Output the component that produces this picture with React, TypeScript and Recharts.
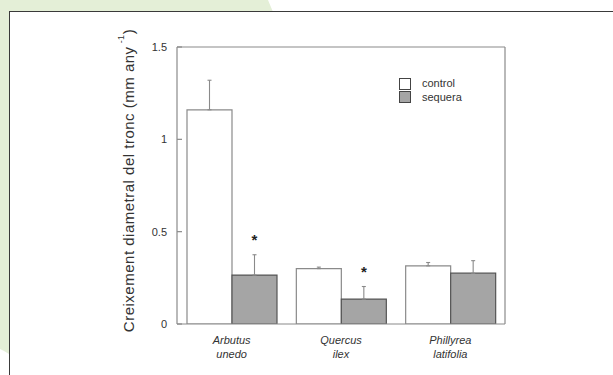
import React from "react";
import {
  ComposedChart,
  Bar,
  XAxis,
  YAxis,
  ErrorBar,
  LabelList,
  ReferenceLine,
} from "recharts";

const speciesLine1 = ["Arbutus", "Quercus", "Phillyrea"];
const speciesLine2 = ["unedo", "ilex", "latifolia"];
const controlMean = [1.16, 0.3, 0.315];
const controlErr = [0.16, 0.008, 0.018];
const sequeraMean = [0.265, 0.135, 0.275];
const sequeraErr = [0.11, 0.068, 0.068];
const significant = ["*", "*", ""];
const yTicks = [0, 0.5, 1, 1.5];
const legendItems = ["control", "sequera"];
const legendFills = ["#ffffff", "#a5a5a5"];

const data = speciesLine1.map((s, i) => ({
  name: s,
  control: controlMean[i],
  controlE: [0, controlErr[i]],
  sequera: sequeraMean[i],
  sequeraE: [0, sequeraErr[i]],
  sig: significant[i],
}));

const FONT = "'Liberation Sans', Arial, Helvetica, sans-serif";
const AXIS = "#8a8a8a";

const LeftTick = (props: any) => {
  const { x, y, payload } = props;
  const ax = x + 10;
  return (
    <g>
      <text x={x} y={y} dy={4} textAnchor="end" fontSize={11} fill="#333" fontFamily={FONT}>
        {payload.value}
      </text>
      <line x1={ax} x2={ax + 5} y1={y} y2={y} stroke={AXIS} strokeWidth={1.2} />
    </g>
  );
};

const RightTick = (props: any) => {
  const { x, y } = props;
  return <line x1={x - 5} x2={x} y1={y} y2={y} stroke={AXIS} strokeWidth={1.2} />;
};

const XTick = (props: any) => {
  const { x, y, payload, index } = props;
  return (
    <text x={x} y={y} textAnchor="middle" fontSize={11} fontStyle="italic" fill="#333" fontFamily={FONT}>
      <tspan x={x} dy={12}>{payload.value}</tspan>
      <tspan x={x} dy={14}>{speciesLine2[index]}</tspan>
    </text>
  );
};

const YLabel = (props: any) => {
  const vb = props.viewBox || {};
  const cx = 128;
  const cy = vb.y + vb.height / 2 - 5;
  return (
    <text
      x={cx}
      y={cy}
      transform={`rotate(-90 ${cx} ${cy})`}
      textAnchor="middle"
      dominantBaseline="central"
      fontSize={15}
      letterSpacing={0.5}
      fill="#333"
      fontFamily={FONT}
    >
      Creixement diametral del tronc (mm any
      <tspan dy={-7} fontSize={9}> -1</tspan>
      <tspan dy={7}>)</tspan>
    </text>
  );
};

const Star = (props: any) => {
  const { x, y, width, height, value, index } = props;
  if (!value) return null;
  const pxPerUnit = height / sequeraMean[index];
  const top = y - sequeraErr[index] * pxPerUnit;
  return (
    <text x={x + width / 2} y={top - 10} textAnchor="middle" fontSize={15} fontWeight="bold" fill="#222" fontFamily={FONT}>
      {value}
    </text>
  );
};

export default function App() {
  return (
    <div
      style={{
        position: "absolute",
        left: 0,
        top: 0,
        width: 613,
        height: 375,
        overflow: "hidden",
        background: "#ffffff",
      }}
    >
      <div
        style={{
          position: "absolute",
          left: 0,
          top: 0,
          width: 300,
          height: 375,
          background: "#e4efd7",
          clipPath:
            "polygon(0 0, 268px 0, 273px 12px, 9px 12px, 9px 354px, 4px 351px, 0 349px)",
        }}
      />
      <div
        style={{
          position: "absolute",
          left: 9,
          top: 11,
          width: 800,
          height: 600,
          border: "1.6px solid #3a3a3a",
          boxSizing: "border-box",
        }}
      />
      <div style={{ position: "absolute", left: 0, top: 0 }}>
        <ComposedChart
          width={613}
          height={375}
          data={data}
          margin={{ top: 47, right: 98, bottom: 0, left: 117 }}
          barGap={0}
          barCategoryGap={10}
        >
          <XAxis
            dataKey="name"
            tick={<XTick />}
            tickLine={false}
            axisLine={{ stroke: AXIS, strokeWidth: 1.2 }}
            interval={0}
            height={51}
          />
          <YAxis
            yAxisId="l"
            domain={[0, 1.5]}
            ticks={yTicks}
            tick={<LeftTick />}
            tickLine={false}
            tickSize={0}
            tickMargin={10}
            axisLine={{ stroke: AXIS, strokeWidth: 1.2 }}
            width={60}
            label={<YLabel />}
            allowDataOverflow
          />
          <YAxis
            yAxisId="r"
            orientation="right"
            domain={[0, 1.5]}
            ticks={yTicks}
            tick={<RightTick />}
            tickLine={false}
            tickSize={0}
            tickMargin={0}
            axisLine={{ stroke: AXIS, strokeWidth: 1.2 }}
            width={10}
          />
          <ReferenceLine yAxisId="l" y={1.5} stroke={AXIS} strokeWidth={1.2} />
          <Bar
            yAxisId="l"
            dataKey="control"
            name="control"
            fill="#ffffff"
            stroke="#8a8a8a"
            strokeWidth={1.2}
            isAnimationActive={false}
          >
            <ErrorBar dataKey="controlE" width={2} stroke="#8a8a8a" strokeWidth={1.1} direction="y" />
          </Bar>
          <Bar
            yAxisId="l"
            dataKey="sequera"
            name="sequera"
            fill="#a5a5a5"
            stroke="#555555"
            strokeWidth={1.2}
            isAnimationActive={false}
          >
            <ErrorBar dataKey="sequeraE" width={2} stroke="#8a8a8a" strokeWidth={1.1} direction="y" />
            <LabelList dataKey="sig" content={<Star />} />
          </Bar>
        </ComposedChart>
      </div>
      <div
        style={{
          position: "absolute",
          left: 399,
          top: 77,
          fontFamily: FONT,
          fontSize: 11,
          color: "#333",
          lineHeight: "13px",
        }}
      >
        {legendItems.map((label, i) => (
          <div key={label} style={{ display: "flex", alignItems: "center", height: 13.5 }}>
            <div
              style={{
                width: 10,
                height: 10,
                background: legendFills[i],
                border: "1px solid #444",
                marginRight: 11,
              }}
            />
            <span>{label}</span>
          </div>
        ))}
      </div>
    </div>
  );
}
